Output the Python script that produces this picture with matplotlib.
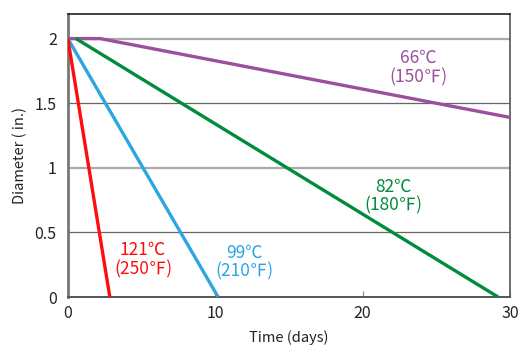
import matplotlib
matplotlib.use("Agg")
import matplotlib.pyplot as plt

plt.rcParams['font.family'] = ['Noto Sans CJK JP', 'DejaVu Sans']

# data
red_x = [0, 2.85]
red_y = [2, 0]
blue_x = [0, 10.2]
blue_y = [2, 0]
green_x = [0.55, 29.2]
green_y = [2, 0]
purple_x = [0, 2.2, 30]
purple_y = [2, 2, 1.39]

labels = ["121℃\n(250℉)", "99℃\n(210℉)", "82℃\n(180℉)", "66℃\n(150℉)"]
label_x = [5.1, 12.0, 22.1, 23.8]
label_y = [0.29, 0.27, 0.78, 1.775]

colors = ["#ff0d0d", "#2ba6e1", "#008c3a", "#9b4f9d"]

xticks = [0, 10, 20, 30]
yticks = [0, 0.5, 1, 1.5, 2]
yticklabels = ["0", "0.5", "1", "1.5", "2"]

fig = plt.figure(figsize=(5.3, 3.6), dpi=100)
ax = fig.add_axes([0.128, 0.175, 0.834, 0.786])

for yv in [1, 2]:
    ax.axhline(yv, color="#aaaaaa", lw=1.6, zorder=1)
for yv in [0.5, 1.5]:
    ax.axhline(yv, color="#666666", lw=0.9, zorder=1)

lw = 2.4
ax.plot(purple_x, purple_y, color=colors[3], lw=lw, zorder=3, solid_capstyle='butt')
ax.plot(green_x, green_y, color=colors[2], lw=lw, zorder=3, solid_capstyle='butt')
ax.plot(blue_x, blue_y, color=colors[1], lw=lw, zorder=3, solid_capstyle='butt')
ax.plot(red_x, red_y, color=colors[0], lw=lw, zorder=3, solid_capstyle='butt')

for t, x, y, c in zip(labels, label_x, label_y, colors):
    ax.text(x, y, t, color=c, fontsize=12.5, ha="center", va="center", linespacing=1.05)

ax.set_xlim(0, 30)
ax.set_ylim(0, 2.19)
ax.set_xticks(xticks)
ax.set_xticklabels([str(v) for v in xticks])
ax.set_yticks(yticks)
ax.set_yticklabels(yticklabels)
ax.tick_params(axis="x", direction="in", length=4, width=0.8, color="#888888",
               labelsize=11.5, pad=6, labelcolor="#222222")
ax.tick_params(axis="y", length=0, labelsize=11.5, pad=8, labelcolor="#222222")

ax.spines["left"].set_color("#777777")
ax.spines["left"].set_linewidth(2)
ax.spines["bottom"].set_color("#555555")
ax.spines["bottom"].set_linewidth(1.4)
ax.spines["right"].set_color("#555555")
ax.spines["right"].set_linewidth(1.2)
ax.spines["top"].set_color("#222222")
ax.spines["top"].set_linewidth(1.2)

ax.set_xlabel("Time (days)", fontsize=10.5, color="#222222", labelpad=6)
ax.set_ylabel("Diameter ( in.)", fontsize=10.5, color="#222222", labelpad=5)

fig.savefig("out.png", dpi=100)
